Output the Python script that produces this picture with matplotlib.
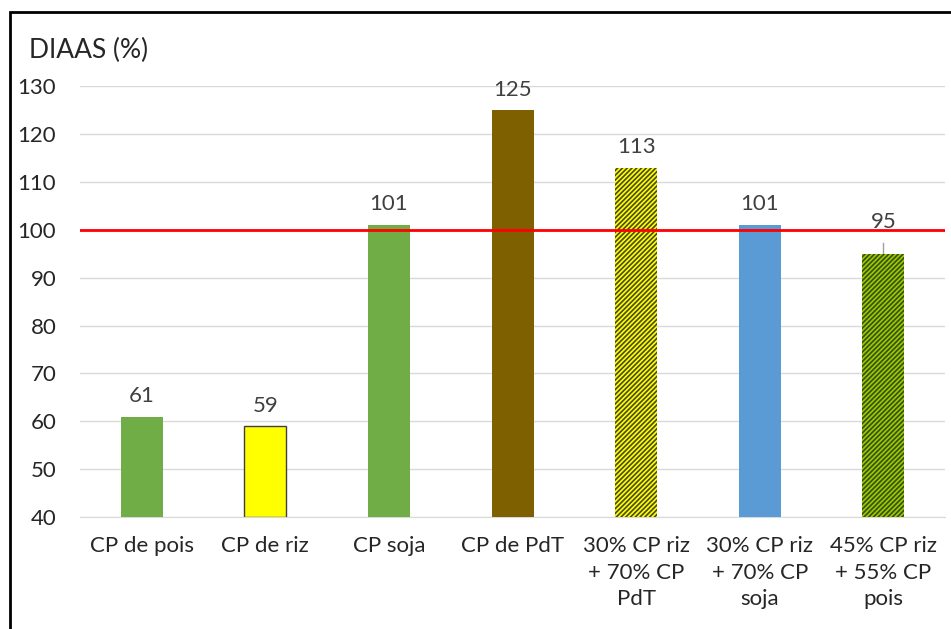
import matplotlib.pyplot as plt
import matplotlib.patches as patches

plt.rcParams['font.family'] = ['Lato', 'DejaVu Sans']
plt.rcParams['hatch.linewidth'] = 1.2

categories = ["CP de pois", "CP de riz", "CP soja", "CP de PdT",
              "30% CP riz\n+ 70% CP\nPdT", "30% CP riz\n+ 70% CP\nsoja",
              "45% CP riz\n+ 55% CP\npois"]
values = [61, 59, 101, 125, 113, 101, 95]
err_up = [0, 0, 0, 0, 0, 0, 2.3]
colors = ["#70ad47", "#ffff00", "#70ad47", "#7f6000", "#ffff00", "#5b9bd5", "#99cc00"]
hatch_colors = [None, None, None, None, "#4a4a20", None, "#3a4d10"]
reference = 100

fig = plt.figure(figsize=(9.51, 6.29), dpi=100)
ax = fig.add_axes([0.084, 0.178, 0.91, 0.685])

x = range(len(categories))
for i in x:
    if hatch_colors[i]:
        ax.bar(i, values[i] - 40, bottom=40, width=0.34, color=colors[i],
               edgecolor=hatch_colors[i], hatch="///////", linewidth=0, zorder=3)
    elif colors[i] == "#ffff00":
        ax.bar(i, values[i] - 40, bottom=40, width=0.34, color=colors[i],
               edgecolor="#404040", linewidth=1, zorder=3)
    else:
        ax.bar(i, values[i] - 40, bottom=40, width=0.34, color=colors[i],
               linewidth=0, zorder=3)
    if err_up[i] > 0:
        ax.plot([i, i], [values[i], values[i] + err_up[i]], color="#a0a0a0",
                lw=1, zorder=2)
    ax.text(i, values[i] + err_up[i] + 2.2, str(values[i]), ha="center", va="bottom",
            fontsize=16, color="#404040")

ax.axhline(reference, color="#ff0000", lw=2, zorder=4)

ax.set_ylim(40, 130)
ax.set_xlim(-0.5, len(categories) - 0.5)
ax.set_yticks(range(40, 131, 10))
ax.set_xticks(list(x))
ax.set_xticklabels(categories, fontsize=16, color="#262626", linespacing=1.4)
ax.tick_params(axis="y", labelsize=16, colors="#262626", length=0, pad=17)
ax.tick_params(axis="x", length=0, pad=14)
ax.grid(axis="y", color="#d9d9d9", lw=1, zorder=0)
for s in ["top", "right", "left"]:
    ax.spines[s].set_visible(False)
ax.spines["bottom"].set_color("#d9d9d9")

fig.text(0.031, 0.92, "DIAAS (%)", fontsize=19, color="#262626", va="center")

frame = patches.Rectangle((0.0105, -0.05), 1.2, 1.031, transform=fig.transFigure,
                          fill=False, edgecolor="black", lw=2, clip_on=False)
fig.patches.append(frame)

fig.savefig("out.png", dpi=100)
